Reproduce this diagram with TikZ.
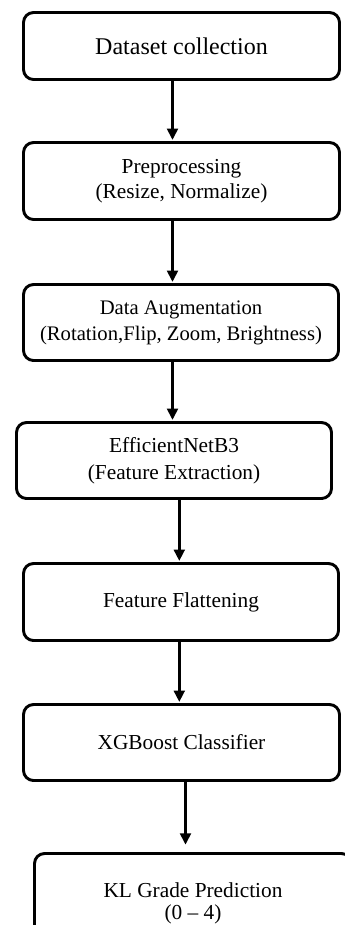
\documentclass[tikz,border=0pt]{standalone}
\usepackage{fontspec}
\setmainfont{Liberation Serif}
\usetikzlibrary{arrows.meta}

\tikzset{
  stage/.style={draw, line width=2.2pt, rounded corners=7.5pt, align=center,
    inner sep=2pt, font=\fontsize{16}{19}\selectfont},
  flow/.style={line width=2.2pt, -{Triangle[width=8pt,length=8.5pt]}, shorten >=0.8pt}
}

\begin{document}
\begin{tikzpicture}[x=0.75pt, y=-0.75pt]
  \useasboundingbox (0,0) rectangle (345,925);
  \clip (0,0) rectangle (345,925);

  % processing stages, top to bottom
  \node[stage, minimum width=237pt, minimum height=50.25pt,
        font=\fontsize{18}{21}\selectfont] (b1) at (181.5,46) {Dataset collection};
  \node[stage, minimum width=237pt, minimum height=57.75pt] (b2) at (181.5,181)
        {Preprocessing\\(Resize, Normalize)};
  \node[stage, minimum width=236.25pt, minimum height=57pt,
        font=\fontsize{15.5}{19.5}\selectfont] (b3) at (181,322.5)
        {Data Augmentation\\(Rotation,Flip, Zoom, Brightness)};
  \node[stage, minimum width=236.25pt, minimum height=57pt,
        font=\fontsize{16}{20.5}\selectfont] (b4) at (174,460.5)
        {EfficientNetB3\\(Feature Extraction)};
  \node[stage, minimum width=236.25pt, minimum height=57.75pt] (b5) at (181,602)
        {Feature Flattening};
  \node[stage, minimum width=237pt, minimum height=57pt] (b6) at (181.5,742.5)
        {XGBoost Classifier};
  \node[stage, minimum width=237.75pt, minimum height=74.25pt,
        font=\fontsize{16}{16.5}\selectfont] (b7) at (193,903)
        {KL Grade Prediction\\(0 -- 4)};

  % vertical positions of the connectors
  \coordinate (c1) at (172.5,0);
  \coordinate (c2) at (179.3,0);
  \coordinate (c3) at (185.5,0);

  \draw[flow] (b1.south -| c1) -- (b2.north -| c1);
  \draw[flow] (b2.south -| c1) -- (b3.north -| c1);
  \draw[flow] (b3.south -| c1) -- (b4.north -| c1);
  \draw[flow] (b4.south -| c2) -- (b5.north -| c2);
  \draw[flow] (b5.south -| c2) -- (b6.north -| c2);
  \draw[flow, shorten >=5.5pt] (b6.south -| c3) -- (b7.north -| c3);
\end{tikzpicture}
\end{document}
